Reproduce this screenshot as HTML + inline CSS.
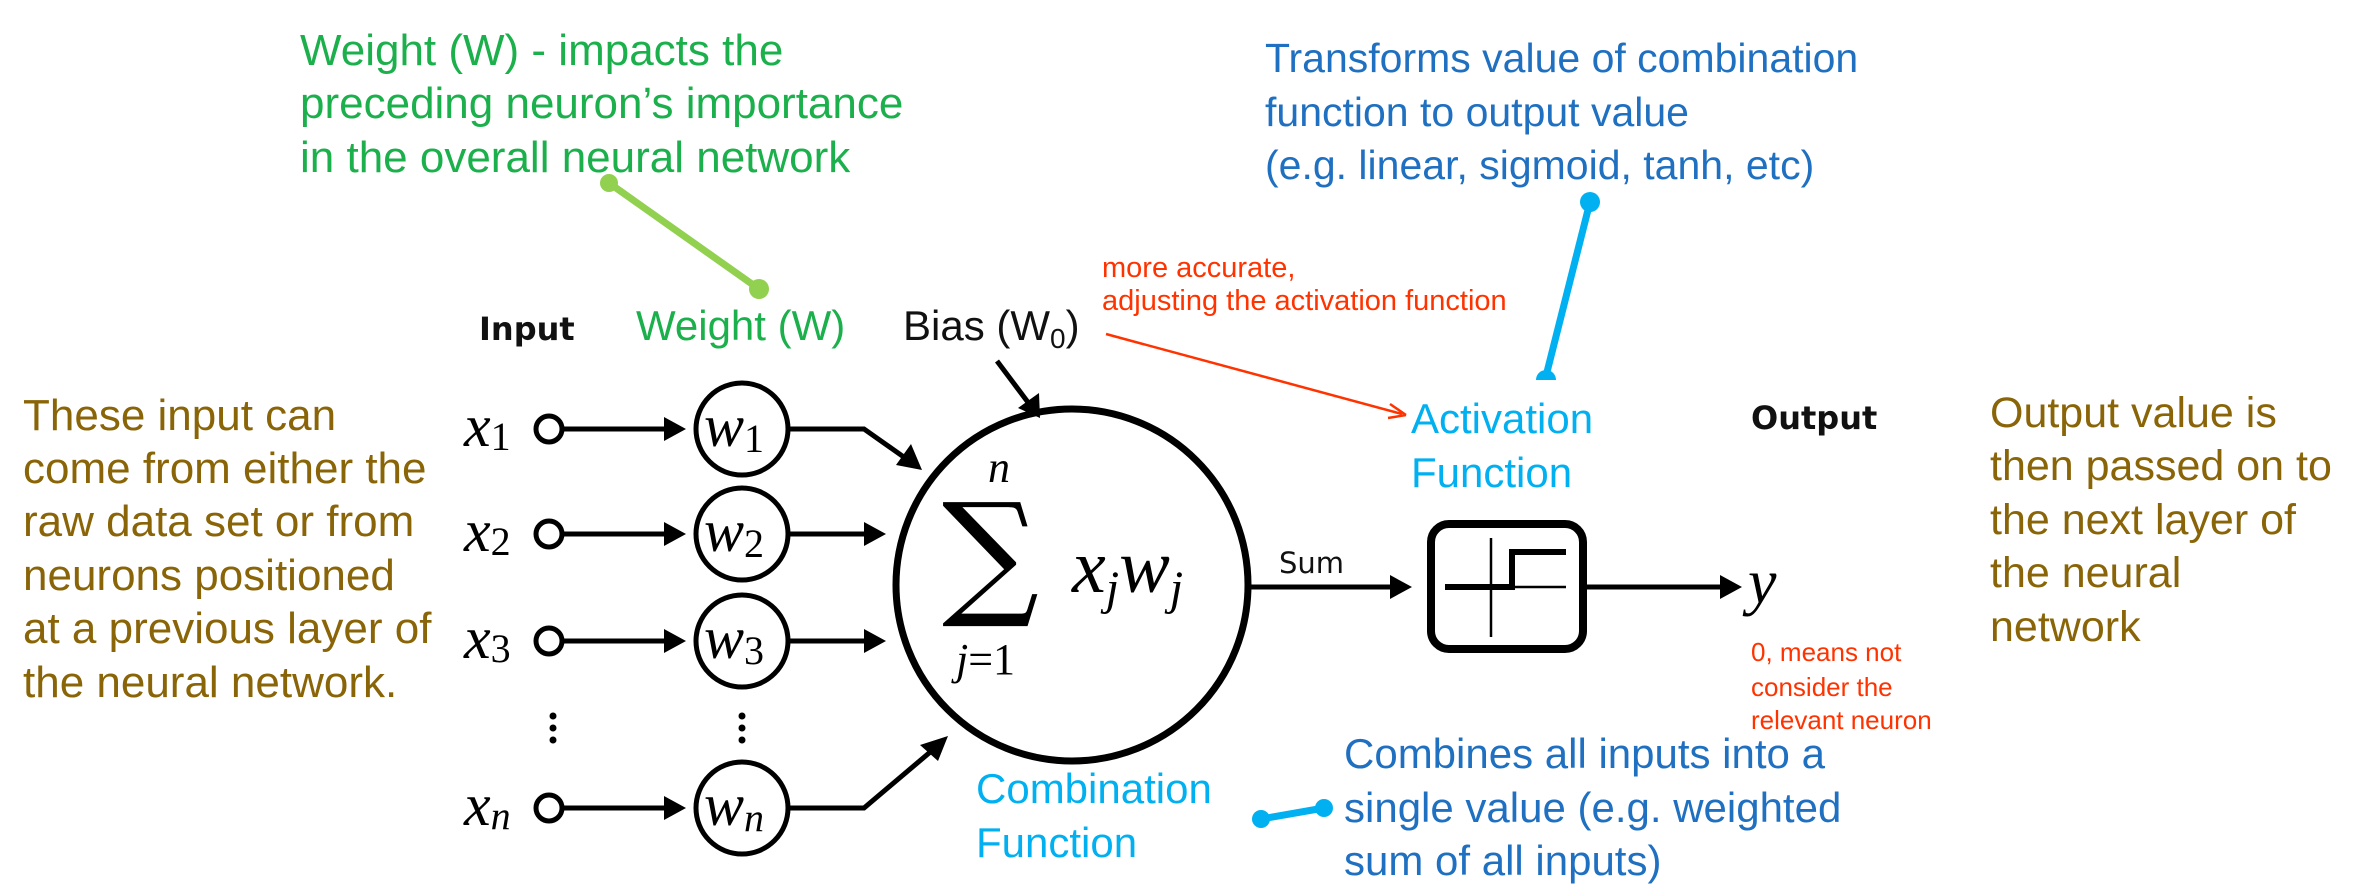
<!DOCTYPE html>
<html><head><meta charset="utf-8"><style>
html,body{margin:0;padding:0;background:#fff;}
svg{display:block;}
.sans{font-family:"Liberation Sans",sans-serif;}
.serif{font-family:"Liberation Serif","DejaVu Serif",serif;font-style:italic;}
</style></head><body>
<svg width="2356" height="896" viewBox="0 0 2356 896" xmlns="http://www.w3.org/2000/svg">
<!-- green annotation -->
<g class="sans" fill="#1bb04c" font-size="44">
<text x="300" y="65">Weight (W) - impacts the</text>
<text x="300" y="118">preceding neuron’s importance</text>
<text x="300" y="172">in the overall  neural network</text>
</g>
<line x1="609" y1="183" x2="759" y2="289" stroke="#92d050" stroke-width="7"/>
<circle cx="609" cy="183" r="9" fill="#92d050"/>
<circle cx="759" cy="289" r="10" fill="#92d050"/>

<!-- blue top annotation -->
<g class="sans" fill="#1f70c1" font-size="41">
<text x="1265" y="72">Transforms value of combination</text>
<text x="1265" y="126">function to output value</text>
<text x="1265" y="179">(e.g. linear, sigmoid, tanh, etc)</text>
</g>
<line x1="1590" y1="202" x2="1546" y2="376" stroke="#00b0f0" stroke-width="7"/>
<circle cx="1590" cy="202" r="10" fill="#00b0f0"/>
<path d="M1536 380 A10 10 0 0 1 1556 380 Z" fill="#00b0f0"/>

<!-- red notes -->
<g class="sans" fill="#ff3300" font-size="29">
<text x="1102" y="277">more accurate,</text>
<text x="1102" y="310">adjusting the activation function</text>
</g>
<g class="sans" fill="#ff3300" font-size="26">
<text x="1751" y="661">0, means not</text>
<text x="1751" y="696">consider the</text>
<text x="1751" y="729">relevant neuron</text>
</g>
<line x1="1106" y1="334" x2="1402" y2="414" stroke="#ff3300" stroke-width="2.5"/>
<path d="M1406 415 L1390 404 M1406 415 L1388 418" stroke="#ff3300" stroke-width="2.5" fill="none"/>

<!-- left text -->
<g class="sans" fill="#8a6508" font-size="44">
<text x="23" y="430">These input can</text>
<text x="23" y="483">come from either the</text>
<text x="23" y="536">raw data set or from</text>
<text x="23" y="590">neurons positioned</text>
<text x="23" y="643">at a previous layer of</text>
<text x="23" y="697">the neural network.</text>
</g>
<!-- right text -->
<g class="sans" fill="#8a6508" font-size="43">
<text x="1990" y="427">Output value is</text>
<text x="1990" y="480">then passed on to</text>
<text x="1990" y="534">the next layer of</text>
<text x="1990" y="587">the neural</text>
<text x="1990" y="641">network</text>
</g>

<!-- headers -->
<text x="479" y="340" font-family="'DejaVu Sans',sans-serif" font-size="32" font-weight="bold" fill="#111">Input</text>
<text x="636" y="340" class="sans" font-size="42" fill="#1bb04c">Weight (W)</text>
<text x="903" y="340" class="sans" font-size="42" fill="#111">Bias (W<tspan font-size="28" dy="8">0</tspan><tspan dy="-8">)</tspan></text>
<text x="1751" y="429" font-family="'DejaVu Sans',sans-serif" font-size="32" font-weight="bold" fill="#111">Output</text>
<g class="sans" fill="#00b0f0" font-size="42">
<text x="1411" y="433">Activation</text>
<text x="1411" y="487">Function</text>
<text x="976" y="803">Combination</text>
<text x="976" y="857">Function</text>
</g>
<g class="sans" fill="#1f70c1" font-size="42">
<text x="1344" y="768">Combines all inputs into a</text>
<text x="1344" y="822">single value (e.g. weighted</text>
<text x="1344" y="875">sum of all inputs)</text>
</g>
<line x1="1261" y1="819" x2="1324" y2="808" stroke="#00b0f0" stroke-width="7"/>
<circle cx="1261" cy="819" r="9" fill="#00b0f0"/>
<circle cx="1324" cy="808" r="9" fill="#00b0f0"/>

<!-- input rows -->
<g stroke="#000" stroke-width="5" fill="none">
<circle cx="549" cy="429" r="13"/>
<circle cx="549" cy="534" r="13"/>
<circle cx="549" cy="641" r="13"/>
<circle cx="549" cy="808" r="13"/>
<line x1="562" y1="429" x2="668" y2="429"/>
<line x1="562" y1="534" x2="668" y2="534"/>
<line x1="562" y1="641" x2="668" y2="641"/>
<line x1="562" y1="808" x2="668" y2="808"/>
<circle cx="742" cy="429" r="46"/>
<circle cx="742" cy="534" r="46"/>
<circle cx="742" cy="641" r="46"/>
<circle cx="742" cy="808" r="46"/>
<polyline points="788,429 864,429 908,460"/>
<line x1="788" y1="534" x2="868" y2="534"/>
<line x1="788" y1="641" x2="868" y2="641"/>
<polyline points="788,808 864,808 935,748"/>
<line x1="997" y1="361" x2="1030" y2="405"/>
<circle cx="1072" cy="585" r="176" stroke-width="7"/>
<line x1="1250" y1="587" x2="1392" y2="587"/>
<rect x="1431" y="524" width="152" height="125" rx="18" stroke-width="8"/>
<line x1="1583" y1="587" x2="1722" y2="587"/>
<line x1="1491" y1="538" x2="1491" y2="637" stroke-width="2.5"/>
<line x1="1512" y1="587" x2="1566" y2="587" stroke-width="2.5"/>
<polyline points="1445,587 1512,587 1512,552 1566,552" stroke-width="6"/>
</g>
<g fill="#000">
<polygon points="686,429 664,417 664,441"/>
<polygon points="686,534 664,522 664,546"/>
<polygon points="686,641 664,629 664,653"/>
<polygon points="686,808 664,796 664,820"/>
<polygon points="886,534 864,522 864,546"/>
<polygon points="886,641 864,629 864,653"/>
<polygon points="922,470 896,465 911,444"/>
<polygon points="948,736 938,761 920,745"/>
<polygon points="1040,418 1018,408 1039,393"/>
<polygon points="1412,587 1390,575 1390,599"/>
<polygon points="1742,587 1720,575 1720,599"/>
<circle cx="553" cy="716" r="3.5"/><circle cx="553" cy="728" r="3.5"/><circle cx="553" cy="740" r="3.5"/>
<circle cx="742" cy="716" r="3.5"/><circle cx="742" cy="728" r="3.5"/><circle cx="742" cy="740" r="3.5"/>
</g>
<!-- math labels -->
<g class="serif" fill="#000" font-size="60">
<text x="464" y="446">x<tspan font-style="normal" font-size="40" dy="4">1</tspan></text>
<text x="464" y="551">x<tspan font-style="normal" font-size="40" dy="4">2</tspan></text>
<text x="464" y="658">x<tspan font-style="normal" font-size="40" dy="4">3</tspan></text>
<text x="464" y="825">x<tspan font-size="40" dy="4">n</tspan></text>
<text x="704" y="446">w<tspan font-style="normal" font-size="40" dy="6">1</tspan></text>
<text x="704" y="551">w<tspan font-style="normal" font-size="40" dy="6">2</tspan></text>
<text x="704" y="658">w<tspan font-style="normal" font-size="40" dy="6">3</tspan></text>
<text x="704" y="825">w<tspan font-size="40" dy="6">n</tspan></text>
<text x="1072" y="592" font-size="76">x<tspan font-size="48" dy="12">j</tspan><tspan dy="-12">w</tspan><tspan font-size="48" dy="12">j</tspan></text>
<text x="988" y="482" font-size="44">n</text>
<text x="956" y="674" font-size="44">j<tspan font-style="normal">=1</tspan></text>
<text x="1748" y="603" font-size="64">y</text>
</g>
<text x="942" y="600" font-family="'DejaVu Serif','Liberation Serif',serif" font-size="136" fill="#000">∑</text>
<text x="1279" y="573" font-family="'DejaVu Sans',sans-serif" font-size="29" fill="#111">Sum</text>
</svg>
</body></html>
